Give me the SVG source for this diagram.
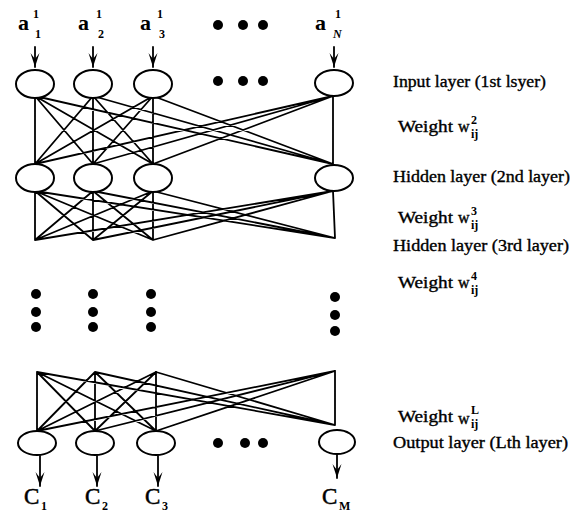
<svg xmlns="http://www.w3.org/2000/svg" width="585" height="512" viewBox="0 0 585 512">
  <style>
    .ln { stroke: #000; stroke-width: 1.8; fill: none; stroke-linecap: round; }
    .nd { stroke: #000; stroke-width: 2; fill: #fff; }
    .dot { fill: #000; }
    .lbl { font-family: "Liberation Serif", "Times New Roman", serif; font-size: 16px; fill: #000; stroke: #000; stroke-width: 0.35; }
    .sm { font-family: "Liberation Serif", "Times New Roman", serif; font-size: 12px; font-weight: bold; fill: #000; }
    .var { font-family: "Liberation Serif", "Times New Roman", serif; font-size: 22px; font-weight: bold; fill: #000; }
    .out { font-family: "Liberation Serif", "Times New Roman", serif; font-size: 23px; fill: #000; stroke: #000; stroke-width: 0.5; }
  </style>
  <defs>
    <marker id="head" viewBox="-15 -5 16 10" refX="0" refY="0" markerWidth="16" markerHeight="10" markerUnits="userSpaceOnUse" orient="auto">
      <path d="M-14,-4.5 L0,0 L-14,4.5 L-8,0 Z" fill="#000"/>
    </marker>
  </defs>

  <!-- connections between layers -->
  <g id="connectors" class="ln">
    <!-- input layer to hidden layer 2 -->
    <path d="M35,96 L35,164 M35,96 L93,164 M35,96 L153,164 M35,96 L333,164
             M93,96 L35,164 M93,96 L93,164 M93,96 L153,164 M93,96 L333,164
             M153,96 L35,164 M153,96 L93,164 M153,96 L153,164 M153,96 L333,164
             M333,96 L35,164 M333,96 L93,164 M333,96 L153,164 M333,96 L333,164"/>
    <!-- hidden layer 2 to hidden layer 3 -->
    <path d="M35,191 L35,240 M35,191 L93,240 M35,191 L153,240 M35,191 L335,238
             M93,191 L35,240 M93,191 L93,240 M93,191 L153,240 M93,191 L335,238
             M153,191 L35,240 M153,191 L93,240 M153,191 L153,240 M153,191 L335,238
             M333,191 L35,240 M333,191 L93,240 M333,191 L153,240 M333,191 L335,238"/>
    <!-- last hidden layer to output layer -->
    <path d="M37,372 L37,431 M37,372 L95,431 M37,372 L156,431 M37,372 L335,425
             M95,372 L37,431 M95,372 L95,431 M95,372 L156,431 M95,372 L335,425
             M156,372 L37,431 M156,372 L95,431 M156,372 L156,431 M156,372 L335,425
             M335,371 L37,431 M335,371 L95,431 M335,371 L156,431 M335,371 L335,425"/>
    <!-- input arrows -->
    <line x1="35" y1="47" x2="35" y2="67" marker-end="url(#head)"/>
    <line x1="93" y1="47" x2="93" y2="67" marker-end="url(#head)"/>
    <line x1="153" y1="47" x2="153" y2="67" marker-end="url(#head)"/>
    <line x1="334" y1="47" x2="334" y2="67" marker-end="url(#head)"/>
    <!-- output arrows -->
    <line x1="40" y1="456" x2="40" y2="486" marker-end="url(#head)"/>
    <line x1="97" y1="456" x2="97" y2="486" marker-end="url(#head)"/>
    <line x1="158" y1="456" x2="158" y2="486" marker-end="url(#head)"/>
    <line x1="337" y1="455" x2="337" y2="478" marker-end="url(#head)"/>
  </g>

  <!-- input layer -->
  <g id="input-1"><ellipse class="nd" cx="35" cy="84" rx="19" ry="14"/></g>
  <g id="input-2"><ellipse class="nd" cx="93" cy="84" rx="19" ry="14"/></g>
  <g id="input-3"><ellipse class="nd" cx="153" cy="84" rx="19" ry="14"/></g>
  <g id="input-n"><ellipse class="nd" cx="334" cy="83" rx="19" ry="13"/></g>

  <!-- hidden layer 2 -->
  <g id="hidden2-1"><ellipse class="nd" cx="35" cy="178" rx="19" ry="14"/></g>
  <g id="hidden2-2"><ellipse class="nd" cx="93" cy="178" rx="19" ry="14"/></g>
  <g id="hidden2-3"><ellipse class="nd" cx="153" cy="178" rx="19" ry="14"/></g>
  <g id="hidden2-n"><ellipse class="nd" cx="334" cy="178" rx="19" ry="13"/></g>

  <!-- output layer -->
  <g id="output-1"><ellipse class="nd" cx="37" cy="443" rx="19" ry="12"/></g>
  <g id="output-2"><ellipse class="nd" cx="95" cy="443" rx="19" ry="12"/></g>
  <g id="output-3"><ellipse class="nd" cx="156" cy="443" rx="19" ry="12"/></g>
  <g id="output-m"><ellipse class="nd" cx="337" cy="442" rx="18" ry="12"/></g>

  <!-- ellipsis dots -->
  <g id="ellipsis" class="dot">
    <circle cx="218" cy="25" r="5"/><circle cx="243" cy="25" r="5"/><circle cx="263" cy="25" r="5"/>
    <circle cx="218" cy="81" r="5"/><circle cx="243" cy="81" r="5"/><circle cx="263" cy="81" r="5"/>
    <circle cx="36" cy="294" r="5"/><circle cx="36" cy="312" r="5"/><circle cx="36" cy="327" r="5"/>
    <circle cx="93" cy="294" r="5"/><circle cx="93" cy="312" r="5"/><circle cx="93" cy="327" r="5"/>
    <circle cx="151" cy="294" r="5"/><circle cx="151" cy="312" r="5"/><circle cx="151" cy="327" r="5"/>
    <circle cx="335" cy="297" r="5"/><circle cx="335" cy="315" r="5"/><circle cx="335" cy="331" r="5"/>
    <circle cx="218" cy="443" r="5"/><circle cx="245" cy="443" r="5"/><circle cx="263" cy="443" r="5"/>
  </g>

  <!-- input symbols -->
  <g id="input-labels">
    <text class="var" x="18" y="30">a</text>
    <text class="sm" x="33" y="18">1</text><text class="sm" x="35" y="38">1</text>
    <text class="var" x="78" y="30">a</text>
    <text class="sm" x="96" y="18">1</text><text class="sm" x="98" y="38">2</text>
    <text class="var" x="140" y="30">a</text>
    <text class="sm" x="157" y="18">1</text><text class="sm" x="159" y="38">3</text>
    <text class="var" x="315" y="30">a</text>
    <text class="sm" x="335" y="18">1</text><text class="sm" x="333" y="38" font-style="italic">N</text>
  </g>

  <!-- output symbols -->
  <g id="output-labels">
    <text class="out" x="24" y="504">C</text><text class="sm" x="41" y="510">1</text>
    <text class="out" x="85" y="504">C</text><text class="sm" x="102" y="510">2</text>
    <text class="out" x="145" y="504">C</text><text class="sm" x="162" y="510">3</text>
    <text class="out" x="322" y="504">C</text><text class="sm" x="339" y="510">M</text>
  </g>

  <!-- layer legend -->
  <g id="legend">
    <text class="lbl" x="393" y="87" textLength="153" lengthAdjust="spacingAndGlyphs">Input layer (1st lsyer)</text>
    <text class="lbl" x="398" y="132" textLength="55" lengthAdjust="spacingAndGlyphs">Weight</text>
    <text class="lbl" x="458" y="132">w</text><text class="sm" x="471" y="124">2</text><text class="sm" x="471" y="138">ij</text>
    <text class="lbl" x="393" y="182" textLength="177" lengthAdjust="spacingAndGlyphs">Hidden layer (2nd layer)</text>
    <text class="lbl" x="398" y="223" textLength="55" lengthAdjust="spacingAndGlyphs">Weight</text>
    <text class="lbl" x="458" y="223">w</text><text class="sm" x="471" y="215">3</text><text class="sm" x="471" y="229">ij</text>
    <text class="lbl" x="393" y="251" textLength="176" lengthAdjust="spacingAndGlyphs">Hidden layer (3rd layer)</text>
    <text class="lbl" x="398" y="288" textLength="55" lengthAdjust="spacingAndGlyphs">Weight</text>
    <text class="lbl" x="458" y="288">w</text><text class="sm" x="471" y="280">4</text><text class="sm" x="471" y="294">ij</text>
    <text class="lbl" x="398" y="422" textLength="55" lengthAdjust="spacingAndGlyphs">Weight</text>
    <text class="lbl" x="458" y="424">w</text><text class="sm" x="471" y="414">L</text><text class="sm" x="471" y="428">ij</text>
    <text class="lbl" x="393" y="448" textLength="175" lengthAdjust="spacingAndGlyphs">Output layer (Lth layer)</text>
  </g>
</svg>
